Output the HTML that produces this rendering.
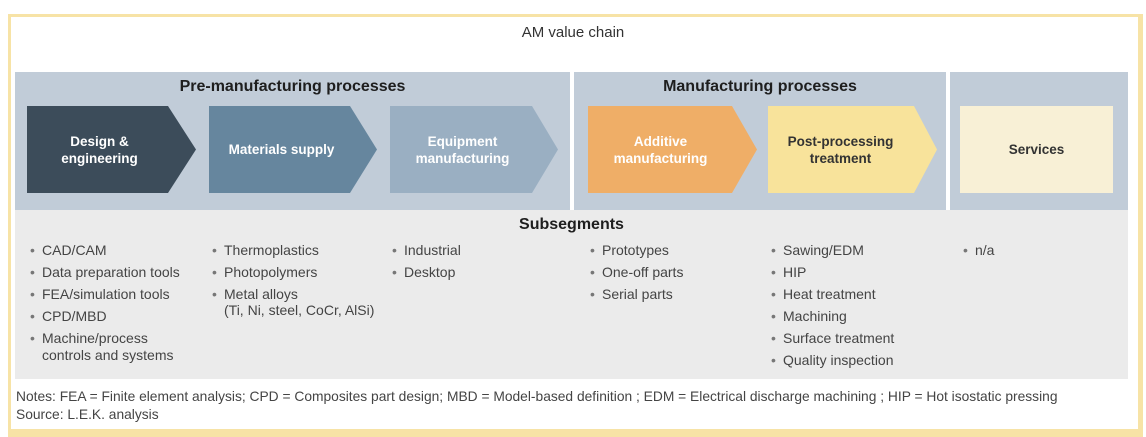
<!DOCTYPE html>
<html><head><meta charset="utf-8"><style>
body{margin:0;width:1146px;height:436px;background:#fff;position:relative;overflow:hidden;font-family:"Liberation Sans",sans-serif;color:#3a3a3a}
.a{position:absolute}
.frame{left:8px;top:14px;width:1127px;height:412px;border:3px solid #f7e3a6;border-bottom:8px solid #f7e3a6;border-right:5px solid #f7e3a6}
.panel{background:#c1ccd8;top:72px;height:138px}
.hdr{font-weight:bold;font-size:16px;color:#1e1e1e;text-align:center}
.lbl{font-weight:bold;font-size:13.5px;line-height:17px;text-align:center;display:flex;align-items:center;justify-content:center;height:87px}
.item{font-size:14px;line-height:22px;color:#444}
.item li{list-style:none;position:relative;padding-left:12px}
.item li:before{content:"•";position:absolute;left:0;color:#777}
.item ul{margin:0;padding:0}
</style></head><body>
<div class="a frame"></div>
<div class="a" style="left:0;width:1146px;top:24px;text-align:center;font-size:15px;color:#333">AM value chain</div>

<div class="a panel" style="left:15px;width:555px"></div>
<div class="a panel" style="left:574px;width:372px"></div>
<div class="a panel" style="left:950px;width:178px"></div>
<div class="a" style="left:15px;top:210px;width:1113px;height:169px;background:#ebebeb"></div>

<div class="a hdr" style="left:15px;width:555px;top:78px">Pre-manufacturing processes</div>
<div class="a hdr" style="left:574px;width:372px;top:78px">Manufacturing processes</div>

<svg class="a" style="left:0;top:0" width="1146" height="436">
<polygon points="27,106 168,106 196,149.5 168,193 27,193" fill="#3c4c5a"/>
<polygon points="209,106 350,106 377,149.5 350,193 209,193" fill="#66869e"/>
<polygon points="390,106 532,106 558,149.5 532,193 390,193" fill="#9aafc2"/>
<polygon points="588,106 732,106 757,149.5 732,193 588,193" fill="#efae67"/>
<polygon points="768,106 914,106 937,149.5 914,193 768,193" fill="#f8e39b"/>
<rect x="960" y="106" width="153" height="87" fill="#f8f0d6"/>
</svg>
<div class="a lbl" style="left:27px;width:145px;top:106px;color:#fff">Design &amp;<br>engineering</div>
<div class="a lbl" style="left:209px;width:145px;top:106px;color:#fff">Materials supply</div>
<div class="a lbl" style="left:390px;width:145px;top:106px;color:#fff">Equipment<br>manufacturing</div>
<div class="a lbl" style="left:588px;width:145px;top:106px;color:#fff">Additive<br>manufacturing</div>
<div class="a lbl" style="left:768px;width:145px;top:106px;color:#333">Post-processing<br>treatment</div>
<div class="a lbl" style="left:960px;width:153px;top:106px;color:#333">Services</div>

<div class="a hdr" style="left:15px;width:1113px;top:216px">Subsegments</div>

<div class="a item" style="left:30px;top:239px"><ul>
<li>CAD/CAM</li><li>Data preparation tools</li><li>FEA/simulation tools</li><li>CPD/MBD</li><li style="line-height:17px;padding-top:3px">Machine/process<br>controls and systems</li></ul></div>
<div class="a item" style="left:212px;top:239px"><ul>
<li>Thermoplastics</li><li>Photopolymers</li><li style="line-height:16px;padding-top:3px">Metal alloys<br>(Ti, Ni, steel, CoCr, AlSi)</li></ul></div>
<div class="a item" style="left:392px;top:239px"><ul>
<li>Industrial</li><li>Desktop</li></ul></div>
<div class="a item" style="left:590px;top:239px"><ul>
<li>Prototypes</li><li>One-off parts</li><li>Serial parts</li></ul></div>
<div class="a item" style="left:771px;top:239px"><ul>
<li>Sawing/EDM</li><li>HIP</li><li>Heat treatment</li><li>Machining</li><li>Surface treatment</li><li>Quality inspection</li></ul></div>
<div class="a item" style="left:963px;top:239px"><ul><li>n/a</li></ul></div>

<div class="a" style="left:16px;top:388px;font-size:13.8px;line-height:18px;color:#444;white-space:nowrap">Notes: FEA = Finite element analysis; CPD = Composites part design; MBD = Model-based definition ; EDM = Electrical discharge machining ; HIP = Hot isostatic pressing<br>Source: L.E.K. analysis</div>
</body></html>
